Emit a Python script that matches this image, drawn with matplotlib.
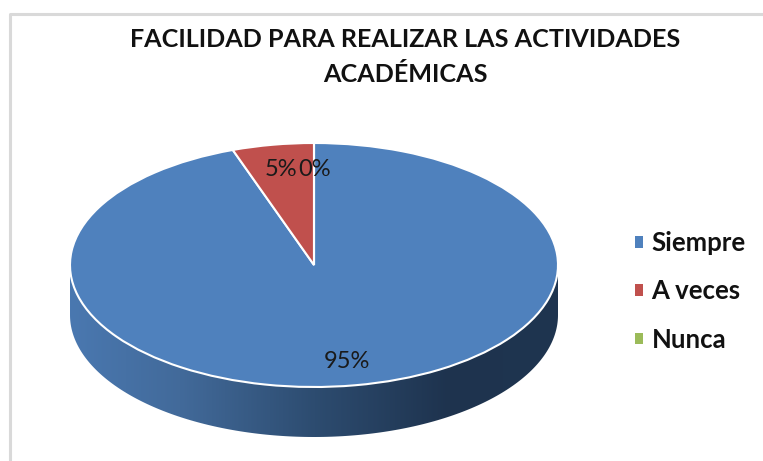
import numpy as np
import matplotlib
matplotlib.use("Agg")
import matplotlib.pyplot as plt
from matplotlib.lines import Line2D
from matplotlib.patches import Patch, Polygon

categories = ["Siempre", "A veces", "Nunca"]
values = [94.6, 5.4, 0]
pie_colors = ["#4f81bd", "#c0504d", "#9bbb59"]
title_text = "FACILIDAD PARA REALIZAR LAS ACTIVIDADES\nACADÉMICAS"

W, H = 763, 461
cx, cy, rx, ry, depth = 314, 265, 244, 122, 50

plt.rcParams["font.family"] = ["Lato", "DejaVu Sans"]

fig = plt.figure(figsize=(W / 100, H / 100), dpi=100)
ax = fig.add_axes([0, 0, 1, 1])

wedges, texts, autotexts = ax.pie(
    values,
    colors=pie_colors,
    startangle=90,
    counterclock=False,
    autopct="%.0f%%",
    wedgeprops={"edgecolor": "white", "linewidth": 1.5, "zorder": 3},
    textprops={"fontsize": 17, "color": "#1a1a1a", "zorder": 5},
)
ax.set_aspect("auto")
ax.axis("off")

# label spots, in pie units
def to_data(px, py):
    return (px - cx) / rx, (cy - py) / ry

autotexts[0].set_position(to_data(347, 361))
autotexts[1].set_position(to_data(281, 170))
autotexts[2].set_position(to_data(315, 170))

# side wall of the 3D pie
t = np.linspace(np.pi, 2 * np.pi, 200)
d = depth / ry
wall = np.column_stack([
    np.r_[np.cos(t), np.cos(t[::-1])],
    np.r_[np.sin(t), np.sin(t[::-1]) - d],
])
poly = Polygon(wall, closed=True, facecolor="none", edgecolor="none", transform=ax.transData)
ax.add_patch(poly)
xs = np.linspace(-1, 1, 256)
stops_x = [-1, -0.55, 0.0, 0.55, 1]
stops_rgb = np.array([[0x4a, 0x78, 0xb0], [0x42, 0x6a, 0x9a], [0x2d, 0x4c, 0x70], [0x1e, 0x33, 0x4e], [0x1f, 0x35, 0x50]]) / 255
grad = np.stack([np.interp(xs, stops_x, stops_rgb[:, i]) for i in range(3)], axis=-1)[np.newaxis, :, :]
im = ax.imshow(grad, extent=(-1, 1, -1 - d, 0), aspect="auto", zorder=1, interpolation="bilinear")
im.set_clip_path(poly)
ax.set_xlim(-cx / rx, (W - cx) / rx)
ax.set_ylim(-(H - cy) / ry, cy / ry)

fig.text(405 / W, 1 - 57 / H, title_text, ha="center", va="center", fontsize=18.1,
         fontweight="bold", color="#111111", linespacing=1.65)

handles = [Patch(facecolor=c, edgecolor="none") for c in pie_colors]
fig.legend(handles, categories, loc="upper left", bbox_to_anchor=(635 / W, 1 - 231 / H),
           frameon=False, borderpad=0, borderaxespad=0, handlelength=0.32, handleheight=0.32,
           handletextpad=0.32, labelspacing=0.95, prop={"size": 18.5, "weight": "bold"},
           labelcolor="#111111")

# grey border of the pasted chart
border = "#d9d9d9"
fig.add_artist(Line2D([10 / W, 10 / W, 1], [0, 1 - 14 / H, 1 - 14 / H], color=border, lw=2.2,
                      transform=fig.transFigure))

fig.savefig("out.png", dpi=100)
